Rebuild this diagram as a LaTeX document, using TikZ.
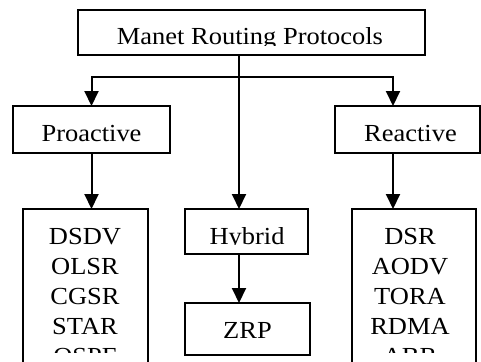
\documentclass[tikz,border=0pt]{standalone}
\usepackage{fontspec}
\setmainfont{Liberation Serif}[FakeStretch=1.08]
\usetikzlibrary{arrows.meta}

\begin{document}
\begin{tikzpicture}[x=1pt, y=-1pt, line width=2pt,
    box/.style={draw, line width=2pt, inner sep=0pt, outer sep=0pt},
    lbl/.style={anchor=base, inner sep=0pt, font=\fontsize{24.5}{30}\selectfont},
    arr/.style={-{Triangle[width=14pt,length=15pt]}}]
    \clip (0,0) rectangle (481,361);

    % boxes
    \node[box, minimum width=347pt, minimum height=45pt] (manet) at (251.5,32.5) {};
    \node[box, minimum width=157pt, minimum height=47pt] (pro) at (91.5,129.5) {};
    \node[box, minimum width=145pt, minimum height=47pt] (rea) at (407.5,129.5) {};
    \node[box, minimum width=123pt, minimum height=45pt] (hyb) at (246.5,231.5) {};
    \node[box, minimum width=125pt, minimum height=52pt] (zrp) at (247.5,329) {};
    \node[box, minimum width=125pt, minimum height=191pt] (plist) at (85.5,304.5) {};
    \node[box, minimum width=124pt, minimum height=191pt] (rlist) at (414,304.5) {};

    % connectors
    \coordinate (split) at (239,77);
    \coordinate (rcol) at (393,0);
    \draw[arr] (manet.south -| split) -- (hyb.north -| split);
    \draw[arr] (split) -| (pro.north);
    \draw[arr] (split) -| (rea.north -| rcol);
    \draw[arr] (pro.south) -- (pro.south |- plist.north);
    \draw[arr] (rea.south -| rcol) -- (rlist.north -| rcol);
    \draw[arr] (hyb.south -| split) -- (zrp.north -| split);

    % labels (cut at the baseline as in the original)
    \begin{scope}
    \clip (manet.north west) rectangle (manet.east |- 0,46);
    \node[lbl] (tmanet) at (250,45) {Manet Routing Protocols};
    \end{scope}
    \node[lbl] (tpro) at (91.5,141) {Proactive};
    \node[lbl] (trea) at (410.5,141) {Reactive};
    \begin{scope}
    \clip (hyb.north west) rectangle (hyb.east |- 0,244.5);
    \node[lbl] (thyb) at (247,244) {Hybrid};
    \end{scope}
    \node[lbl] (tzrp) at (247.5,338) {ZRP};

    % protocol lists
    \begin{scope}
    \clip (0,0) rectangle (481,352);
    \node[lbl] (dsdv) at (85,244) {DSDV};
    \node[lbl] (olsr) at (85,274) {OLSR};
    \node[lbl] (cgsr) at (85,304) {CGSR};
    \node[lbl] (star) at (85,334) {STAR};
    \node[lbl] (ospf) at (85,364) {OSPF};
    \node[lbl] (dsr) at (410,244) {DSR};
    \node[lbl] (aodv) at (410,274) {AODV};
    \node[lbl] (tora) at (410,304) {TORA};
    \node[lbl] (rdma) at (410,334) {RDMA};
    \node[lbl] (abr) at (410,364) {ABR};
    \end{scope}
\end{tikzpicture}
\end{document}
